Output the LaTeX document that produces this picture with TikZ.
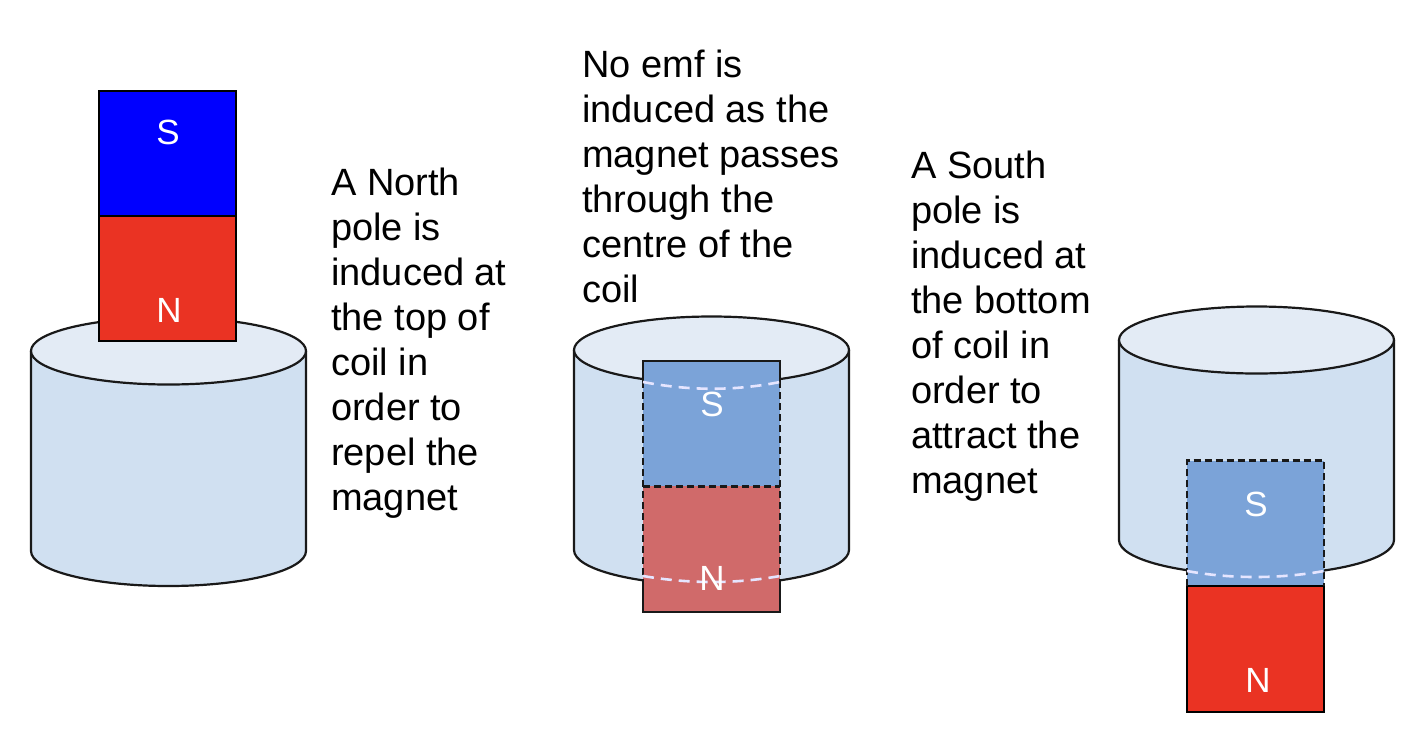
\documentclass[tikz,border=0pt]{standalone}
\usepackage{fontspec}
\setmainfont{Liberation Sans}

\definecolor{coilside}{HTML}{D0E0F1}
\definecolor{coiltop}{HTML}{E3EBF5}
\definecolor{southblue}{HTML}{0000FF}
\definecolor{northred}{HTML}{EA3323}
\definecolor{fadeblue}{HTML}{7BA3D8}
\definecolor{fadered}{HTML}{D06A6A}

\tikzset{
	pole/.style = {minimum width = 137pt, minimum height = 125.5pt, inner sep = 0, outer sep = 0},
	poletext/.style = {text = white, font = \fontsize{35}{42}\selectfont, inner sep = 0},
	caption/.style = {align = left, anchor = north west, inner sep = 0, font = \fontsize{38}{45}\selectfont},
	edge/.style = {line width = 2.2pt, black!90},
	ghost/.style = {line width = 2.8pt, black!90, dash pattern = on 7pt off 4pt},
	hidden/.style = {line width = 2.6pt, white!90!blue, dash pattern = on 11pt off 7pt}
}

\newcommand{\coil}[2]{
	\fill[coilside] (#1-137.5, #2) -- (#1-137.5, #2+200) arc[start angle = 180, end angle = 0, x radius = 137.5, y radius = 35] -- (#1+137.5, #2) -- cycle;
	\draw[edge] (#1-137.5, #2) -- (#1-137.5, #2+200) arc[start angle = 180, end angle = 0, x radius = 137.5, y radius = 35] -- (#1+137.5, #2);
	\draw[edge, fill = coiltop] (#1, #2) ellipse[x radius = 137.5, y radius = 33.5];
}

\begin{document}
\begin{tikzpicture}[x = 1pt, y = -1pt]

		\useasboundingbox (0, 0) rectangle (1427, 729);
		\fill[white] (0, 0) rectangle (1427, 729);

		% left coil
		\coil{168.5}{351}
		\node[pole, fill = southblue, draw = black, line width = 2.2pt] (S1) at (167.5, 153.5) {};
		\node[pole, fill = northred, draw = black, line width = 2.2pt] (N1) at (167.5, 278.5) {};
		\node[poletext] (S1t) at (168, 132) {S};
		\node[poletext] (N1t) at (169, 310) {N};
		\node[caption] (T1) at (331, 168) {A North\\pole is\\induced at\\the top of\\coil in\\order to\\repel the\\magnet};

		% middle coil
		\coil{711.5}{350}
		\node[pole, fill = fadeblue] (S2) at (711.5, 423.5) {};
		\node[pole, fill = fadered] (N2) at (711.5, 549) {};
		\draw[edge] (S2.west |- 0, 381) -- (S2.north west) -- (S2.north east) -- (S2.east |- 0, 381);
		\draw[ghost] (S2.west |- 0, 381) -- (N2.west |- 0, 582);
		\draw[ghost] (S2.east |- 0, 381) -- (N2.east |- 0, 582);
		\draw[ghost] (S2.south west) -- (S2.south east);
		\draw[edge] (N2.west |- 0, 582) -- (N2.south west) -- (N2.south east) -- (N2.east |- 0, 582);
		\draw[hidden] (S2.west |- 0, 382) .. controls (690, 391) and (735, 391) .. (S2.east |- 0, 382);
		\draw[hidden] (N2.west |- 0, 576) .. controls (690, 584) and (735, 584) .. (N2.east |- 0, 576);
		\node[poletext] (S2t) at (712, 404) {S};
		\node[poletext] (N2t) at (712, 578) {N};
		\node[caption] (T2) at (582, 50) {No emf is\\induced as the\\magnet passes\\through the\\centre of the\\coil};

		% right coil
		\coil{1256.5}{340}
		\node[pole, fill = fadeblue] (S3) at (1255.5, 523.5) {};
		\node[pole, fill = northred, draw = black, line width = 2.2pt] (N3) at (1255.5, 649) {};
		\draw[ghost] (S3.south west) -- (S3.north west) -- (S3.north east) -- (S3.south east);
		\draw[hidden] (S3.west |- 0, 571) .. controls (1230, 579) and (1280, 579) .. (S3.east |- 0, 571);
		\node[poletext] (S3t) at (1256, 504) {S};
		\node[poletext] (N3t) at (1258, 680) {N};
		\node[caption] (T3) at (911, 151) {A South\\pole is\\induced at\\the bottom\\of coil in\\order to\\attract the\\magnet};

	\end{tikzpicture}
\end{document}
